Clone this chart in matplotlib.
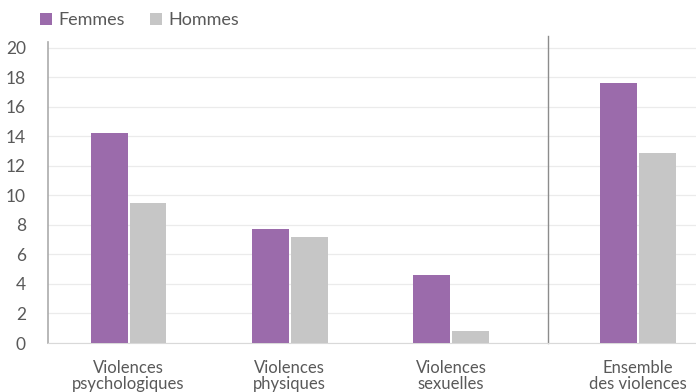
import matplotlib
matplotlib.use('Agg')
import matplotlib.pyplot as plt
import numpy as np

categories = ['Violences\npsychologiques', 'Violences\nphysiques', 'Violences\nsexuelles', 'Ensemble\ndes violences']
femmes = [14.2, 7.7, 4.6, 17.6]
hommes = [9.5, 7.2, 0.8, 12.9]

plt.rcParams['font.family'] = ['Lato', 'DejaVu Sans']
text_col = '#595959'
purple = '#9B6BAB'
grey = '#C6C6C6'

fig = plt.figure(figsize=(6.96, 3.92), dpi=100)
ax = fig.add_axes([48 / 696, 49 / 392, 648 / 696, 301 / 392])

x = np.array([0, 1, 2, 3.16])
w = 0.228
ax.bar(x - w / 2 - 0.006, femmes, w, color=purple, label='Femmes', zorder=3)
ax.bar(x + w / 2 + 0.006, hommes, w, color=grey, label='Hommes', zorder=3)

ax.set_ylim(0, 20.4)
ax.set_xlim(-0.5, 3.52)
ax.set_yticks(range(0, 21, 2))
ax.yaxis.grid(True, color='#EBEBEB', linewidth=0.9, zorder=0)
ax.set_xticks(x)
ax.set_xticklabels(categories, fontsize=12, color=text_col, linespacing=1.05)
ax.tick_params(axis='x', length=0, pad=12)
ax.tick_params(axis='y', length=0, pad=16, labelsize=12.5, labelcolor=text_col)

for s in ['top', 'right']:
    ax.spines[s].set_visible(False)
ax.spines['left'].set_color('#ABABAB')
ax.spines['left'].set_linewidth(1.2)
ax.spines['bottom'].set_color('#D9D9D9')

# separator before the total
ax.axvline(2.6, ymin=0, ymax=1.02, color='#8C8C8C', linewidth=1, clip_on=False)

leg = ax.legend(loc='center left', bbox_to_anchor=(-0.012, 1.073), ncol=2, frameon=False,
                fontsize=13, handlelength=0.65, handleheight=0.65, handletextpad=0.35,
                columnspacing=1.4, borderaxespad=0, borderpad=0)
for t in leg.get_texts():
    t.set_color(text_col)

fig.savefig('out.png', dpi=100)
